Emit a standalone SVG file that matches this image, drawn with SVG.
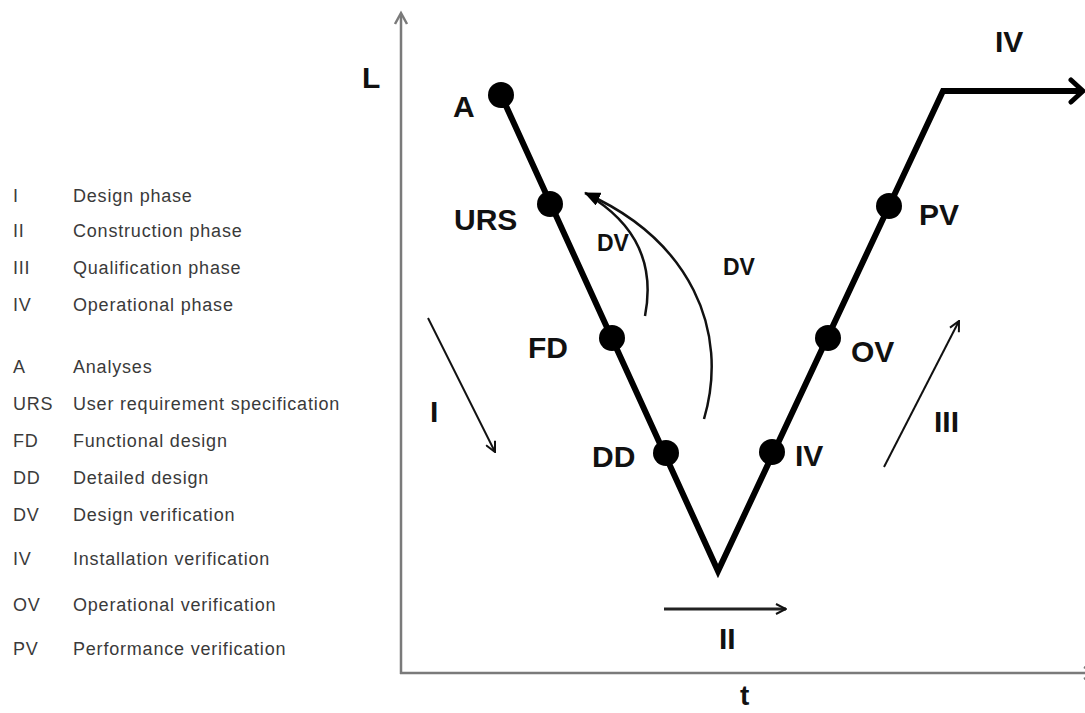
<svg xmlns="http://www.w3.org/2000/svg" width="1085" height="713" viewBox="0 0 1085 713">
<defs>
<style>
.leg{font-family:"Liberation Sans",Arial,sans-serif;font-size:18px;fill:#3a3a3a;letter-spacing:0.8px}
.lbl{font-family:"Liberation Sans",Arial,sans-serif;font-weight:bold;font-size:30px;fill:#111}
.dv{font-family:"Liberation Sans",Arial,sans-serif;font-weight:bold;font-size:23px;fill:#111}
.axis{stroke:#7a7a7a;stroke-width:2.5;fill:none}
.vline{stroke:#000;stroke-width:6;fill:none;stroke-linejoin:miter;stroke-linecap:round}
.thin{stroke:#111;stroke-width:2;fill:none}
.dot{fill:#000}
</style>
<marker id="openHead" viewBox="0 0 12 12" refX="11" refY="6" markerWidth="12" markerHeight="12" markerUnits="userSpaceOnUse" orient="auto">
<path d="M1,1 L11,6 L1,11" fill="none" stroke="#111" stroke-width="2"/>
</marker>
<marker id="fillHead" viewBox="0 0 16 14" refX="15" refY="7" markerWidth="16" markerHeight="14" markerUnits="userSpaceOnUse" orient="auto">
<path d="M0,0 L16,7 L0,14 Z" fill="#000"/>
</marker>
</defs>

<g id="legend">
<text class="leg" x="13" y="202">I</text><text class="leg" x="73" y="202">Design phase</text>
<text class="leg" x="13" y="237">II</text><text class="leg" x="73" y="237">Construction phase</text>
<text class="leg" x="13" y="274">III</text><text class="leg" x="73" y="274">Qualification phase</text>
<text class="leg" x="13" y="311">IV</text><text class="leg" x="73" y="311">Operational phase</text>
<text class="leg" x="13" y="373">A</text><text class="leg" x="73" y="373">Analyses</text>
<text class="leg" x="13" y="410">URS</text><text class="leg" x="73" y="410">User requirement specification</text>
<text class="leg" x="13" y="447">FD</text><text class="leg" x="73" y="447">Functional design</text>
<text class="leg" x="13" y="484">DD</text><text class="leg" x="73" y="484">Detailed design</text>
<text class="leg" x="13" y="521">DV</text><text class="leg" x="73" y="521">Design verification</text>
<text class="leg" x="13" y="565">IV</text><text class="leg" x="73" y="565">Installation verification</text>
<text class="leg" x="13" y="611">OV</text><text class="leg" x="73" y="611">Operational verification</text>
<text class="leg" x="13" y="655">PV</text><text class="leg" x="73" y="655">Performance verification</text>
</g>

<g id="axes">
<line class="axis" x1="401" y1="674" x2="401" y2="14"/>
<path class="axis" d="M395,24 L401,13 L407,24"/>
<line class="axis" x1="400" y1="673" x2="1085" y2="673"/>
<path class="axis" d="M1084,667 L1095,673 L1084,679"/>
<text class="lbl" x="362" y="88">L</text>
<text class="lbl" x="740" y="705" style="font-size:28px">t</text>
</g>

<g id="connectors">
<path class="vline" d="M501,95 L718,571 L943,91 L1080,91"/>
<path d="M1071,80 L1083,91 L1071,102" fill="none" stroke="#000" stroke-width="5" stroke-linecap="round" stroke-linejoin="round"/>
<path d="M645,316 C652,280 648,235 596,200" stroke="#111" stroke-width="2.5" fill="none"/>
<path d="M704,419 C730,330 690,240 585,193" stroke="#111" stroke-width="2.5" fill="none" marker-end="url(#fillHead)"/>
<line class="thin" x1="428" y1="318" x2="495" y2="452" marker-end="url(#openHead)"/>
<line class="thin" x1="884" y1="467" x2="959" y2="321" marker-end="url(#openHead)"/>
<line x1="664" y1="609" x2="786" y2="609" stroke="#222" stroke-width="3" marker-end="url(#openHead)"/>
</g>

<g id="node-A"><circle class="dot" cx="501" cy="95" r="13"/><text class="lbl" x="453" y="117">A</text></g>
<g id="node-URS"><circle class="dot" cx="550" cy="204" r="13"/><text class="lbl" x="454" y="230">URS</text></g>
<g id="node-FD"><circle class="dot" cx="612" cy="338" r="13"/><text class="lbl" x="528" y="358">FD</text></g>
<g id="node-DD"><circle class="dot" cx="666" cy="453" r="13"/><text class="lbl" x="592" y="467">DD</text></g>
<g id="node-IV"><circle class="dot" cx="772" cy="452" r="13"/><text class="lbl" x="795" y="466">IV</text></g>
<g id="node-OV"><circle class="dot" cx="828" cy="338" r="13"/><text class="lbl" x="851" y="362">OV</text></g>
<g id="node-PV"><circle class="dot" cx="889" cy="206" r="13"/><text class="lbl" x="919" y="225">PV</text></g>

<g id="labels">
<text class="dv" x="597" y="251">DV</text>
<text class="dv" x="723" y="275">DV</text>
<text class="lbl" x="430" y="422">I</text>
<text class="lbl" x="719" y="649">II</text>
<text class="lbl" x="934" y="432">III</text>
<text class="lbl" x="995" y="52">IV</text>
</g>
</svg>
